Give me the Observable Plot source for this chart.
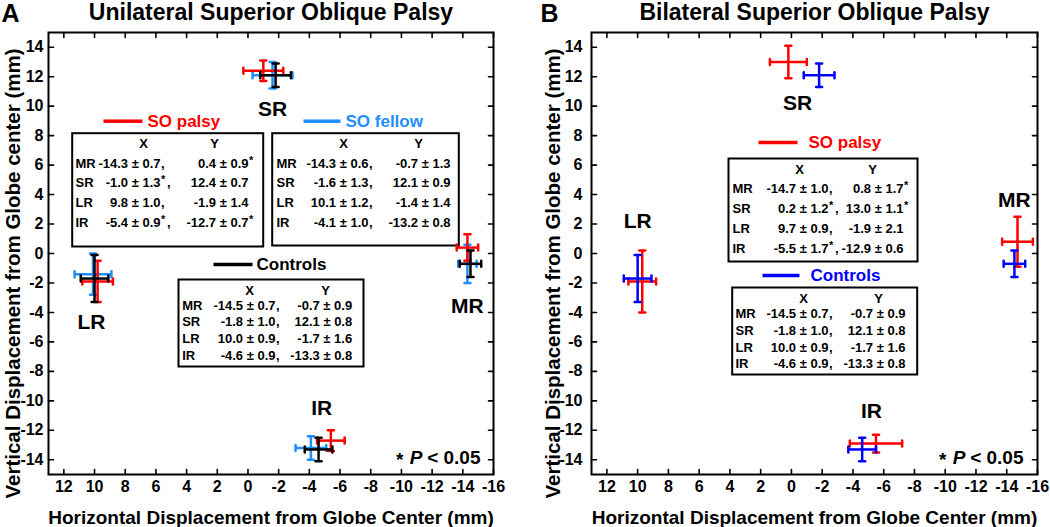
<!DOCTYPE html>
<html><head><meta charset="utf-8">
<script src="https://cdn.jsdelivr.net/npm/d3@7"></script>
<script src="https://cdn.jsdelivr.net/npm/@observablehq/plot@0.6"></script>
<style>
body{margin:0;background:#fff;}
#wrap{display:flex;width:1050px;height:527px;}
#wrap svg{display:block;}
</style></head><body><div id="wrap"></div>
<script>
// ---------- data ----------
const muscles = ["MR", "SR", "LR", "IR"];
const xTicks = [12, 10, 8, 6, 4, 2, 0, -2, -4, -6, -8, -10, -12, -14, -16];
const yTicks = [14, 12, 10, 8, 6, 4, 2, 0, -2, -4, -6, -8, -10, -12, -14];

// Panel A: unilateral SO palsy
const uniPalsyX = [-14.3, -1.0, 9.8, -5.4];
const uniPalsyXsd = [0.7, 1.3, 1.0, 0.9];
const uniPalsyXstar = [false, true, false, true];
const uniPalsyY = [0.4, 12.4, -1.9, -12.7];
const uniPalsyYsd = [0.9, 0.7, 1.4, 0.7];
const uniPalsyYstar = [true, false, false, true];

const uniFellowX = [-14.3, -1.6, 10.1, -4.1];
const uniFellowXsd = [0.6, 1.3, 1.2, 1.0];
const uniFellowY = [-0.7, 12.1, -1.4, -13.2];
const uniFellowYsd = [1.3, 0.9, 1.4, 0.8];

const controlX = [-14.5, -1.8, 10.0, -4.6];
const controlXsd = [0.7, 1.0, 0.9, 0.9];
const controlY = [-0.7, 12.1, -1.7, -13.3];
const controlYsd = [0.9, 0.8, 1.6, 0.8];

// Panel B: bilateral SO palsy
const biPalsyX = [-14.7, 0.2, 9.7, -5.5];
const biPalsyXsd = [1.0, 1.2, 0.9, 1.7];
const biPalsyXstar = [false, true, false, true];
const biPalsyY = [0.8, 13.0, -1.9, -12.9];
const biPalsyYsd = [1.7, 1.1, 2.1, 0.6];
const biPalsyYstar = [true, true, false, false];

const noStar = [false, false, false, false];

// ---------- helpers ----------
const FONT = "'Liberation Sans', Arial, Helvetica, sans-serif";
const RED = "#ff0000", LIGHTBLUE = "#1f8fff", BLUE = "#0000ff", BLACK = "#000000";
const lineShape = {draw(ctx, l) { ctx.moveTo(0, 0); ctx.lineTo(0, -l); }};

function series(X, Xsd, Y, Ysd) {
  return muscles.map((m, i) => ({muscle: m, x: X[i], xsd: Xsd[i], y: Y[i], ysd: Ysd[i]}));
}
function fmt(v, sd) { return v.toFixed(1) + " ± " + sd.toFixed(1); }

function crosses(data, color) {
  const caps = data.flatMap(d => [
    {x: d.x - d.xsd, y: d.y, r: 0}, {x: d.x + d.xsd, y: d.y, r: 0},
    {x: d.x, y: d.y - d.ysd, r: 90}, {x: d.x, y: d.y + d.ysd, r: 90}
  ]);
  return [
    Plot.link(data, {x1: d => d.x - d.xsd, x2: d => d.x + d.xsd, y1: "y", y2: "y", stroke: color, strokeWidth: 2.5}),
    Plot.link(data, {x1: "x", x2: "x", y1: d => d.y - d.ysd, y2: d => d.y + d.ysd, stroke: color, strokeWidth: 2.5}),
    Plot.vector(caps, {x: "x", y: "y", rotate: "r", length: 6, anchor: "middle", shape: lineShape,
      stroke: color, strokeWidth: 2.5, strokeLinecap: "round"})
  ];
}

function at(text, dx, dy, o = {}) {
  return Plot.text([text], {text: d => d, frameAnchor: "top-left", dx, dy, fontWeight: "bold",
    lineAnchor: "middle", textAnchor: "start", ...o});
}

function legendLine(FW, FH, x1, x2, y, color, label, tx) {
  return [
    Plot.frame({fill: color, stroke: "none", insetLeft: x1, insetRight: FW - x2, insetTop: y - 1.75, insetBottom: FH - y - 1.75}),
    at(label, tx, y, {fontSize: 17, fill: color, textAnchor: "start"})
  ];
}

function table(FW, FH, L, X, Xsd, Xstar, Y, Ysd, Ystar) {
  const fs = 13;
  const m = [Plot.frame({fill: "white", stroke: "black", strokeWidth: 2,
    insetLeft: L.box[0], insetTop: L.box[1], insetRight: FW - L.box[2], insetBottom: FH - L.box[3]})];
  m.push(at("X", L.xHead, L.rows[0], {fontSize: fs, textAnchor: "middle"}));
  m.push(at("Y", L.yHead, L.rows[0], {fontSize: fs, textAnchor: "middle"}));
  muscles.forEach((mu, i) => {
    const dy = L.rows[i + 1];
    m.push(at(mu, L.label, dy, {fontSize: fs, textAnchor: "start"}));
    m.push(at(fmt(X[i], Xsd[i]), L.xEnd, dy, {fontSize: fs, textAnchor: "end"}));
    if (Xstar[i]) m.push(at("*", L.xEnd + 0.5, dy - 3, {fontSize: 11, textAnchor: "start"}));
    m.push(at(",", L.xEnd + (Xstar[i] ? 6.5 : 0.5), dy, {fontSize: fs, textAnchor: "start"}));
    m.push(at(fmt(Y[i], Ysd[i]), L.yEnd, dy, {fontSize: fs, textAnchor: "end"}));
    if (Ystar[i]) m.push(at("*", L.yEnd + 0.5, dy - 3, {fontSize: 11, textAnchor: "start"}));
  });
  return m;
}

function frameMarks(FW, FH, tickPad) {
  const tk = {length: 5, anchor: "start", shape: lineShape, stroke: "black", strokeWidth: 1.6};
  return [
    Plot.vector(xTicks, {x: d => d, frameAnchor: "bottom", rotate: 0, ...tk}),
    Plot.vector(xTicks, {x: d => d, frameAnchor: "top", rotate: 180, ...tk}),
    Plot.vector(yTicks, {y: d => d, frameAnchor: "left", rotate: 90, ...tk}),
    Plot.vector(yTicks, {y: d => d, frameAnchor: "right", rotate: -90, ...tk}),
    Plot.axisX(xTicks, {anchor: "bottom", tickSize: 0, tickPadding: 6, tickFormat: d => String(d),
      fontSize: 16, fontWeight: "bold", label: null}),
    Plot.axisY(yTicks, {anchor: "left", tickSize: 0, tickPadding: tickPad, tickFormat: d => String(d),
      fontSize: 16, fontWeight: "bold", label: null}),
    Plot.frame({stroke: "black", strokeWidth: 2})
  ];
}

function common(FW, FH, panel, title, ylabDx) {
  return [
    at(title, FW / 2, -20, {fontSize: 23, textAnchor: "middle"}),
    at(panel, panel === "A" ? -38 : -42, -18.5, {fontSize: 25, textAnchor: "middle"}),
    at("Horizontal Displacement from Globe Center (mm)", FW / 2, FH + 43, {fontSize: 19, textAnchor: "middle"}),
    at("Vertical Displacement from Globe center (mm)", ylabDx, FH / 2 + 20, {rotate: -90, fontSize: 20.5, textAnchor: "middle"}),
    at("*", 355, 427, {fontSize: 19, textAnchor: "end"}),
    at("P", 374, 425, {fontSize: 19, fontStyle: "italic", textAnchor: "end"}),
    at("< 0.05", 432, 425, {fontSize: 19, textAnchor: "end"})
  ];
}

function muscleLabel(t, x, y) {
  return Plot.text([t], {text: d => d, x, y, fontSize: 21, fontWeight: "bold"});
}

const scales = {
  x: {domain: [13, -16], label: null},
  y: {domain: [-15, 15], label: null}
};

// ---------- Panel A ----------
const FWA = 445, FHA = 442;
const plotA = Plot.plot({
  width: 525, height: 527,
  marginLeft: 48, marginRight: 32, marginTop: 32, marginBottom: 53,
  style: {fontFamily: FONT, background: "white", color: "black"},
  ...scales,
  marks: [
    ...frameMarks(FWA, FHA, 5),
    ...common(FWA, FHA, "A", "Unilateral Superior Oblique Palsy", -35),
    ...legendLine(FWA, FHA, 55, 94, 88.7, RED, "SO palsy", 99),
    ...legendLine(FWA, FHA, 255, 292, 88.7, LIGHTBLUE, "SO fellow", 297),
    ...legendLine(FWA, FHA, 165, 204, 232, BLACK, "Controls", 208),
    ...table(FWA, FHA, {box: [23.7, 100.7, 214.7, 214], rows: [111, 131, 150, 170, 190], label: 27, xHead: 95, xEnd: 112, yHead: 166, yEnd: 200},
      uniPalsyX, uniPalsyXsd, uniPalsyXstar, uniPalsyY, uniPalsyYsd, uniPalsyYstar),
    ...table(FWA, FHA, {box: [223.7, 100.7, 410.3, 213], rows: [111, 131, 150, 170, 190], label: 228, xHead: 295, xEnd: 320, yHead: 370, yEnd: 402},
      uniFellowX, uniFellowXsd, noStar, uniFellowY, uniFellowYsd, noStar),
    ...table(FWA, FHA, {box: [130, 247, 315, 334], rows: [258, 273.7, 289.7, 306, 323], label: 133.7, xHead: 201, xEnd: 227, yHead: 277, yEnd: 303.7},
      controlX, controlXsd, noStar, controlY, controlYsd, noStar),
    muscleLabel("SR", -1.6, 9.8),
    muscleLabel("LR", 10.2, -4.7),
    muscleLabel("MR", -14.3, -3.6),
    muscleLabel("IR", -4.8, -10.5),
    ...crosses(series(uniFellowX, uniFellowXsd, uniFellowY, uniFellowYsd), LIGHTBLUE),
    ...crosses(series(uniPalsyX, uniPalsyXsd, uniPalsyY, uniPalsyYsd), RED),
    ...crosses(series(controlX, controlXsd, controlY, controlYsd), BLACK)
  ]
});

// ---------- Panel B ----------
const FWB = 446, FHB = 442;
const plotB = Plot.plot({
  width: 525, height: 527,
  marginLeft: 66, marginRight: 13, marginTop: 32, marginBottom: 53,
  style: {fontFamily: FONT, background: "white", color: "black"},
  ...scales,
  marks: [
    ...frameMarks(FWB, FHB, 9),
    ...common(FWB, FHB, "B", "Bilateral Superior Oblique Palsy", -38),
    ...legendLine(FWB, FHB, 167, 206, 110, RED, "SO palsy", 217),
    ...legendLine(FWB, FHB, 171, 208, 243, BLUE, "Controls", 219),
    ...table(FWB, FHB, {box: [137, 126, 326, 229], rows: [137, 156, 176, 196, 216], label: 141, xHead: 208, xEnd: 237, yHead: 281, yEnd: 312},
      biPalsyX, biPalsyXsd, biPalsyXstar, biPalsyY, biPalsyYsd, biPalsyYstar),
    ...table(FWB, FHB, {box: [140.7, 255, 325.7, 342], rows: [266, 281, 298, 315, 331], label: 144, xHead: 212, xEnd: 237, yHead: 287, yEnd: 314},
      controlX, controlXsd, noStar, controlY, controlYsd, noStar),
    muscleLabel("SR", -0.4, 10.2),
    muscleLabel("LR", 10.0, 2.2),
    muscleLabel("MR", -14.5, 3.6),
    muscleLabel("IR", -5.2, -10.7),
    ...crosses(series(biPalsyX, biPalsyXsd, biPalsyY, biPalsyYsd), RED),
    ...crosses(series(controlX, controlXsd, controlY, controlYsd), BLUE)
  ]
});

document.getElementById("wrap").append(plotA, plotB);
</script></body></html>
